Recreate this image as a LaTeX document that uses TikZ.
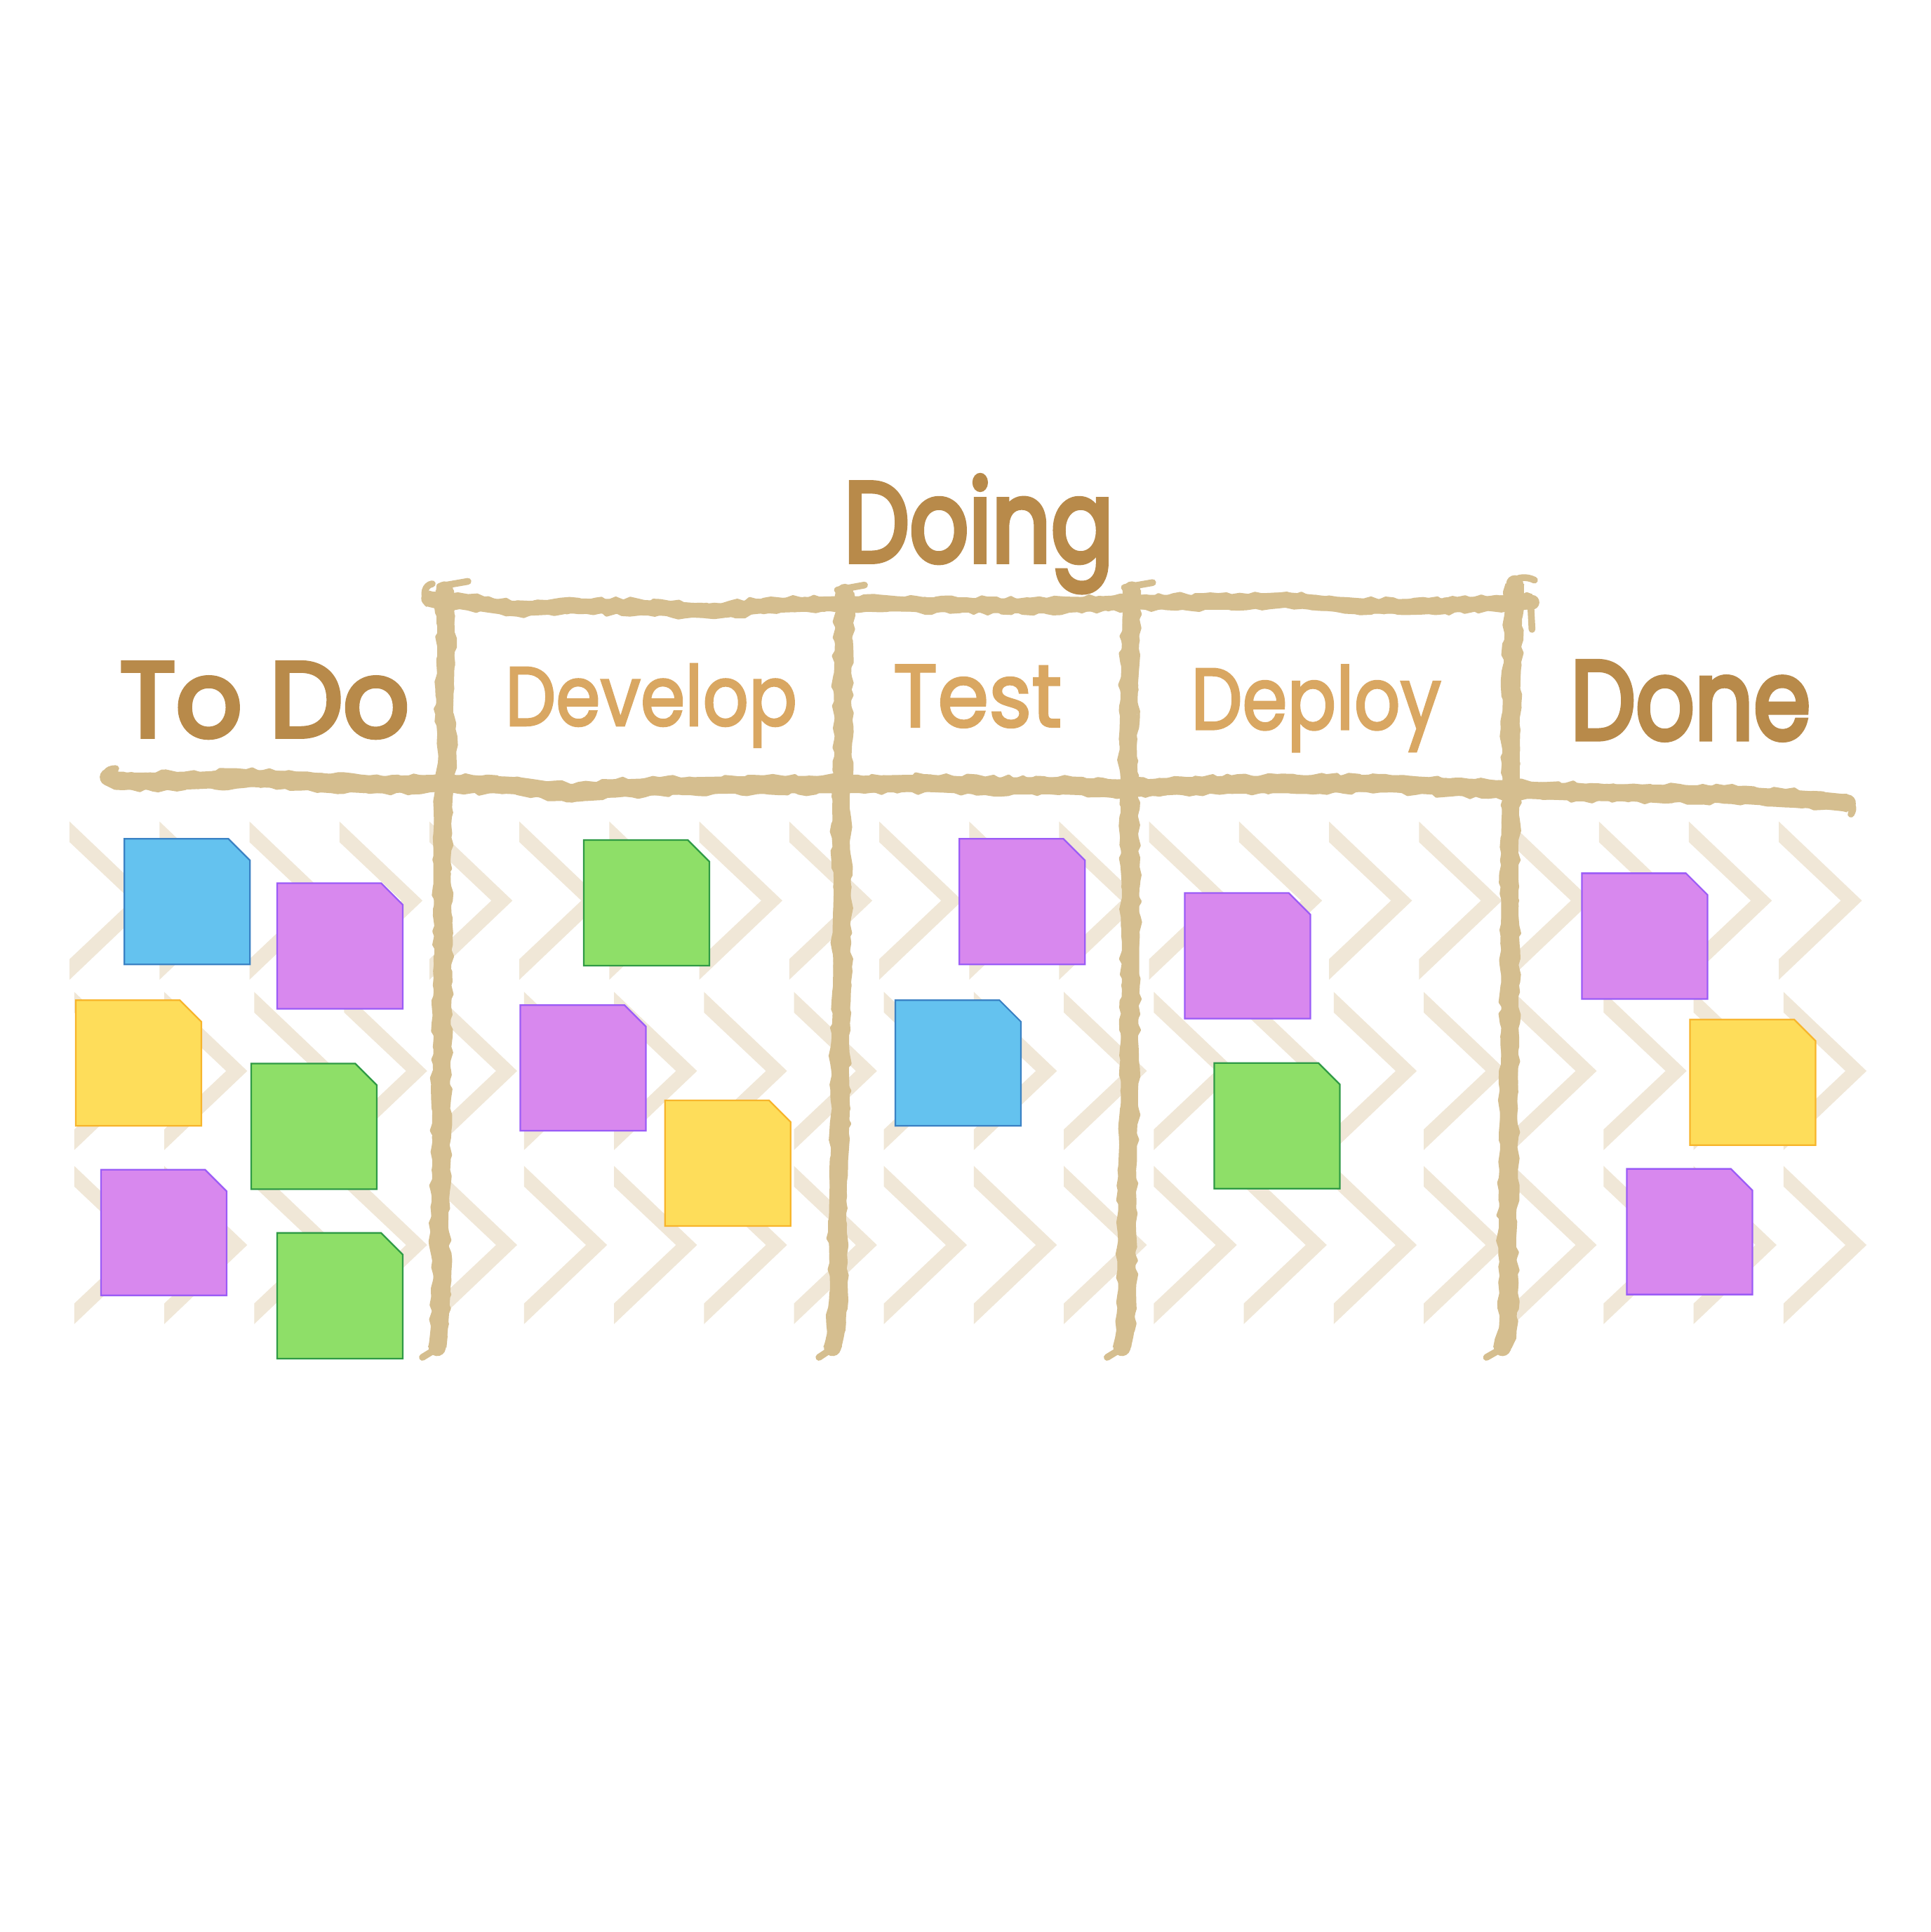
\documentclass[tikz,border=0pt]{standalone}
\usepackage{fontspec}
\newfontfamily\handfont{Poppins}[FakeBold=2.5]
\newfontfamily\handsemi{Poppins}[FakeBold=4.5]
\usetikzlibrary{decorations.pathmorphing}
\definecolor{tanc}{HTML}{D5BE8F}
\definecolor{chevc}{HTML}{F0E7D7}
\definecolor{darktxt}{HTML}{B88A4A}
\definecolor{lighttxt}{HTML}{D9A762}
\definecolor{blueF}{HTML}{64C2EF}
\definecolor{blueL}{HTML}{3B82C4}
\definecolor{purpF}{HTML}{D888EE}
\definecolor{purpL}{HTML}{9B5CF6}
\definecolor{yellF}{HTML}{FEDD5A}
\definecolor{yellL}{HTML}{F7B52C}
\definecolor{greeF}{HTML}{8EDF68}
\definecolor{greeL}{HTML}{2F9A45}
\newcommand\chev[2]{\fill[chevc] (#1,#2-64.2) -- (#1+67.4,#2) -- (#1,#2+64.2) -- (#1,#2+47.5) -- (#1+50.3,#2) -- (#1,#2-47.5) -- cycle;}
% #1 width, #2 xshift/yshift, #3 coordinates
\newcommand\brushline[3]{%
  \draw[tanc, line width=#1pt, line cap=round, line join=round] plot[smooth, tension=0.4] coordinates {#3};
  \draw[tanc, line width=0.7*#1pt, line cap=round, line join=round, decorate, decoration={random steps, segment length=4, amplitude=2.4}] plot[sharp plot] coordinates {#3};
  \draw[tanc, line width=2.5pt, #2=0.45*#1pt, line cap=butt, line join=bevel, decorate, decoration={random steps, segment length=6, amplitude=1.8}] plot[sharp plot] coordinates {#3};
  \draw[tanc, line width=2.5pt, #2=-0.45*#1pt, line cap=butt, line join=bevel, decorate, decoration={random steps, segment length=6, amplitude=1.8}] plot[sharp plot] coordinates {#3};
}
\newcommand\sticky[3]{\filldraw[fill=#3F, draw=#3L, line width=1.3, line join=miter] (#1,#2) -- ++(84.5,0) -- ++(17.5,17.5) -- ++(0,84.5) -- ++(-102,0) -- cycle;}
\tikzset{
  title/.style={inner sep=0pt, anchor=base west, text=darktxt, font=\handsemi},
  sub/.style={inner sep=0pt, anchor=base west, text=lighttxt, font=\handfont},
  flour/.style={tanc, line width=5.5pt, line cap=round, line join=round}
}
\begin{document}
\begin{tikzpicture}[x=1pt,y=-1pt]
\pgfmathsetseed{12}
\useasboundingbox (0,0) rectangle (1568,1568.57);
\fill[white] (0,0) rectangle (1568,1568.57);
% chevron background
\foreach \k in {0,...,19}{
  \pgfmathsetmacro\xa{56.5+73.05*\k}
  \pgfmathsetmacro\xb{60.3+73.05*\k}
  \chev{\xa}{731.2}
  \chev{\xb}{869.5}
  \chev{\xb}{1010.8}
}
% frame: top line of Doing
\brushline{12}{yshift}{(348,486) (380,489) (420,494) (470,492) (520,493) (580,496) (620,492) (685,490) (760,491) (850,492) (918,489) (1000,489) (1045,487) (1100,492) (1160,492) (1228,489) (1244,489)}
% frame: header bottom line
\brushline{14}{yshift}{(88,631) (100,634) (150,634) (200,632) (250,634) (300,637) (360,636) (420,638) (465,644) (500,640) (560,638) (620,637) (685,637) (750,636) (800,638) (860,638) (918,640) (960,638) (1000,637) (1060,637) (1120,636) (1180,639) (1228,641) (1280,643) (1340,644) (1400,645) (1450,648) (1480,650) (1500,652)}
% vertical lines
\brushline{14}{xshift}{(361,479) (362,500) (362,540) (361,580) (363,610) (361,640) (359,680) (359,720) (360,760) (359,800) (359,850) (358,900) (358,950) (357,1000) (359,1040) (357,1075) (355,1094)}
\brushline{14}{xshift}{(686,481) (685,520) (684,560) (685,600) (683,640) (683,680) (684,720) (683,760) (684,800) (682,850) (683,900) (681,950) (680,1000) (681,1050) (679,1080) (676,1094)}
\brushline{14}{xshift}{(919,479) (918,520) (917,560) (916,600) (917,640) (917,680) (918,720) (918,760) (918,800) (917,850) (917,900) (915,950) (915,1000) (915,1050) (914,1080) (911,1094)}
\brushline{14}{xshift}{(1230,474) (1229,500) (1228,540) (1227,580) (1227,620) (1227,640) (1226,680) (1226,720) (1226,760) (1226,800) (1226,850) (1225,900) (1225,950) (1224,1000) (1225,1050) (1224,1080) (1220,1094)}
% flourishes
\draw[flour] (347,490) .. controls (343,482) and (345,475) .. (351,474);
\draw[flour] (357,476) -- (380,472);
\draw[flour] (88,634) .. controls (84,629) and (86,624) .. (94,624);
\draw[flour] (1497,650) .. controls (1505,652) and (1506,656) .. (1503,661);
\draw[flour] (1228,473) .. controls (1232,468) and (1240,468) .. (1246,471);
\draw[flour] (1243,492) -- (1244,511);
\draw[flour] (680,479) -- (702,475);
\draw[flour] (913,477) -- (936,473);
\draw[flour] (356,1094) -- (343,1102);
\draw[flour] (677,1094) -- (665,1102);
\draw[flour] (912,1094) -- (899,1102);
\draw[flour] (1221,1094) -- (1207,1102);
% sticky notes
\sticky{101}{681}{blue}
\sticky{225}{717}{purp}
\sticky{61.5}{812}{yell}
\sticky{204}{863.5}{gree}
\sticky{82}{949.7}{purp}
\sticky{225}{1001}{gree}
\sticky{474}{682}{gree}
\sticky{422.5}{816}{purp}
\sticky{540}{893.4}{yell}
\sticky{779}{681}{purp}
\sticky{727}{812}{blue}
\sticky{962}{725}{purp}
\sticky{986}{863}{gree}
\sticky{1284.5}{709}{purp}
\sticky{1372.3}{827.7}{yell}
\sticky{1321}{949}{purp}
% labels
\node[title] (doing) at (685,456) {\resizebox{219pt}{70pt}{Doing}};
\node[title] (todo) at (97,598) {\resizebox{235pt}{60pt}{To Do}};
\node[title] (done) at (1275,600) {\resizebox{195pt}{63pt}{Done}};
\node[sub] (develop) at (410,589) {\resizebox{237pt}{50pt}{Develop}};
\node[sub] (test) at (725,590) {\resizebox{137pt}{50pt}{Test}};
\node[sub] (deploy) at (967,592) {\resizebox{203pt}{52pt}{Deploy}};
\end{tikzpicture}
\end{document}
